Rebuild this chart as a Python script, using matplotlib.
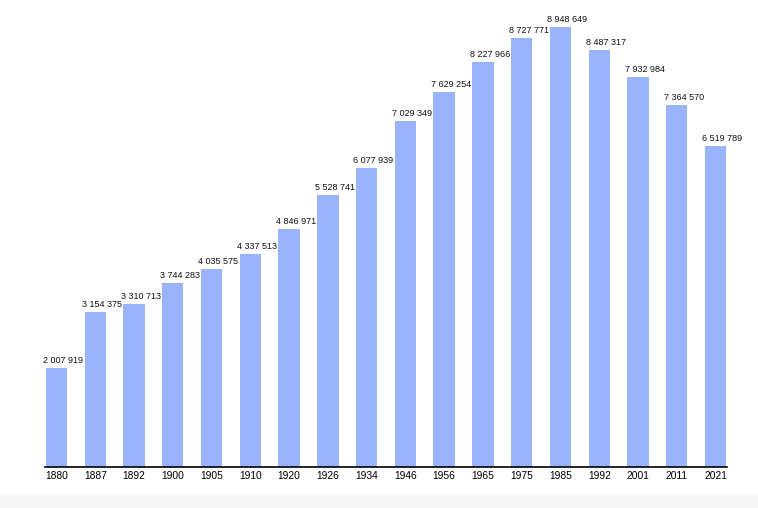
import matplotlib.pyplot as plt
import numpy as np

years = ['1880', '1887', '1892', '1900', '1905', '1910', '1920', '1926', '1934',
         '1946', '1956', '1965', '1975', '1985', '1992', '2001', '2011', '2021']
population = [2007919, 3154375, 3310713, 3744283, 4035575, 4337513, 4846971,
              5528741, 6077939, 7029349, 7629254, 8227966, 8727771, 8948649,
              8487317, 7932984, 7364570, 6519789]

plt.rcParams['font.family'] = ['Liberation Sans', 'DejaVu Sans']

fig = plt.figure(figsize=(7.58, 5.08), dpi=100)
# light grey strip at the bottom
fig.patches.append(plt.Rectangle((0, 0), 1, 13 / 508, transform=fig.transFigure,
                                 color='#f7f7f7', zorder=0))

ax = fig.add_axes([45 / 758, (508 - 467) / 508, 682 / 758, 467 / 508])
x = np.arange(len(years))
w = 0.55
bars = ax.bar(x, population, width=w, color='#99b3ff')

# value labels start just left of each bar
for xi, v in zip(x, population):
    txt = f'{v:,}'.replace(',', ' ')
    ax.annotate(txt, (xi - w / 2, v), xytext=(-2.5, 5), textcoords='offset pixels',
                ha='left', va='baseline', fontsize=6.5, color='#111111')

ax.set_xlim(-w / 2 - 0.02, len(years) - 1 + w / 2 + 0.02)
ax.set_ylim(0, 8948649 * 467 / 440)
ax.set_xticks(x)
ax.set_xticklabels(years, fontsize=7.4)
ax.tick_params(axis='x', length=0, pad=3)
ax.set_yticks([])
for s in ['top', 'right', 'left']:
    ax.spines[s].set_visible(False)
ax.spines['bottom'].set_linewidth(1.2)
ax.patch.set_alpha(0)

fig.savefig('out.png', dpi=100)
